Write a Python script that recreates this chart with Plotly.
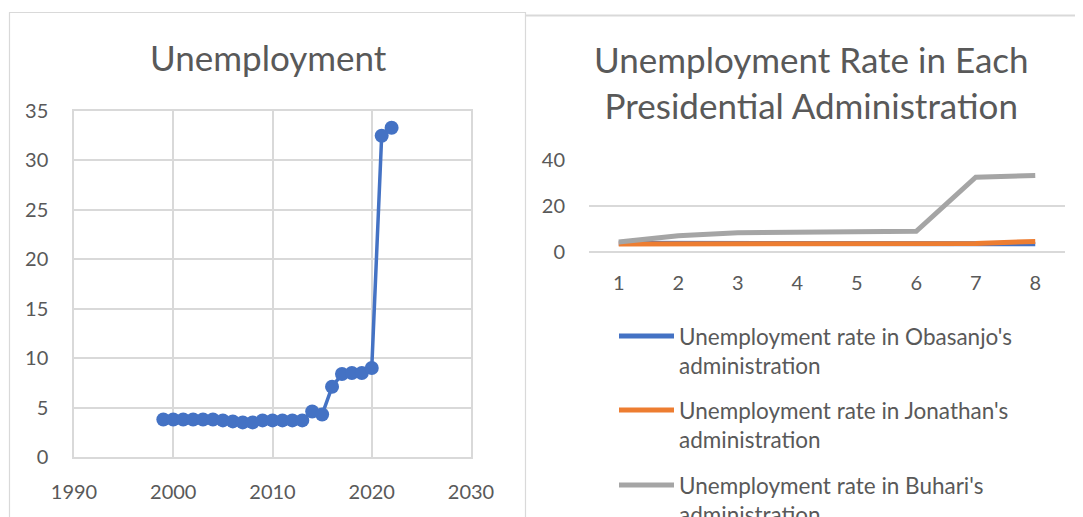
import plotly.graph_objects as go

W, H = 1083, 517
OFF = 8  # page body margin offset

# ---- data ----
years = list(range(1999, 2023))
obasanjo = [3.8, 3.8, 3.8, 3.8, 3.8, 3.8, 3.7, 3.6]
jonathan = [3.5, 3.5, 3.7, 3.7, 3.7, 3.7, 3.7, 4.6]
buhari = [4.3, 7.1, 8.4, 8.5, 8.5, 9.0, 32.5, 33.3]
unemployment = obasanjo + jonathan + buhari
admin_x = [1, 2, 3, 4, 5, 6, 7, 8]
series_names = [
    "Unemployment rate in Obasanjo's<br>administration",
    "Unemployment rate in Jonathan's<br>administration",
    "Unemployment rate in Buhari's<br>administration",
]
series_values = [obasanjo, jonathan, buhari]
colors = ["#4472C4", "#ED7D31", "#A5A5A5"]

TXT = "#595959"
GRID = "#D9D9D9"
FONT = "Lato"


def px(x):
    return (x - OFF) / W


def py(y):
    return 1 - (y - OFF) / H


fig = go.Figure()

# Left chart
fig.add_trace(go.Scatter(
    x=years, y=unemployment, mode="lines+markers",
    line=dict(color="#4472C4", width=3.5),
    marker=dict(color="#4472C4", size=14),
    xaxis="x", yaxis="y", showlegend=False,
))

# Right chart
for name, vals, c in zip(series_names, series_values, colors):
    fig.add_trace(go.Scatter(
        x=admin_x, y=vals, mode="lines", name=name,
        line=dict(color=c, width=5),
        xaxis="x2", yaxis="y2", showlegend=False,
    ))

tickfont = dict(family=FONT, size=20, color=TXT)

fig.update_layout(
    width=W, height=H,
    margin=dict(l=0, r=0, t=0, b=0, autoexpand=False),
    paper_bgcolor="white", plot_bgcolor="white",
    font=dict(family=FONT, color=TXT),
    xaxis=dict(domain=[px(74), px(471)], range=[1990, 2030], dtick=10,
               tick0=1990, showgrid=True, gridcolor=GRID, gridwidth=1.5,
               zeroline=False, showline=True, linecolor=GRID, linewidth=1.5,
               mirror=True, ticks="", tickfont=tickfont, automargin=False,
               ticklabelstandoff=16, fixedrange=True),
    yaxis=dict(domain=[py(457), py(111)], range=[0, 35], dtick=5,
               showgrid=True, gridcolor=GRID, gridwidth=1.5, zeroline=False,
               showline=True, linecolor=GRID, linewidth=1.5, mirror=True,
               ticks="", tickfont=tickfont, ticklabelstandoff=20,
               automargin=False, fixedrange=True),
    xaxis2=dict(domain=[px(589), px(1065)], range=[0.5, 8.5],
                tickvals=admin_x, showgrid=False, zeroline=False,
                showline=False, ticks="", tickfont=tickfont,
                ticklabelstandoff=17, anchor="y2", automargin=False,
                fixedrange=True),
    yaxis2=dict(domain=[py(252), py(160)], range=[0, 40], dtick=20,
                showgrid=True, gridcolor=GRID, gridwidth=1.5, zeroline=True,
                zerolinecolor=GRID, zerolinewidth=1.5, showline=False,
                ticks="", tickfont=tickfont, ticklabelstandoff=23,
                anchor="x2", automargin=False, fixedrange=True),
)

annotations = [
    dict(text="Unemployment", x=px(268), y=py(57), xref="paper",
         yref="paper", showarrow=False, xanchor="center", yanchor="middle",
         font=dict(family=FONT, size=35, color=TXT)),
    dict(text="Unemployment Rate in Each<br>Presidential Administration",
         x=px(811), y=py(82), xref="paper", yref="paper", showarrow=False,
         xanchor="center", yanchor="middle", align="center",
         font=dict(family=FONT, size=35, color=TXT)),
]

shapes = [
    dict(type="rect", xref="paper", yref="paper", x0=px(9.5), x1=px(525.5),
         y0=py(560), y1=py(12.5), line=dict(color=GRID, width=1.2),
         fillcolor="rgba(0,0,0,0)", layer="below"),
    dict(type="line", xref="paper", yref="paper", x0=px(525.5), x1=px(1100),
         y0=py(15.5), y1=py(15.5), line=dict(color=GRID, width=2)),
]

# legend drawn below the right chart
leg_y = [336, 410, 485]
for name, c, yy in zip(series_names, colors, leg_y):
    shapes.append(dict(type="line", xref="paper", yref="paper",
                       x0=px(619), x1=px(674), y0=py(yy), y1=py(yy),
                       line=dict(color=c, width=5)))
    annotations.append(dict(text=name, x=px(677), y=py(yy - 15),
                            xref="paper", yref="paper", showarrow=False,
                            xanchor="left", yanchor="top", align="left",
                            font=dict(family=FONT, size=22.5, color=TXT)))

fig.update_layout(annotations=annotations, shapes=shapes)

fig.write_html("out.html", config={"displayModeBar": False})
